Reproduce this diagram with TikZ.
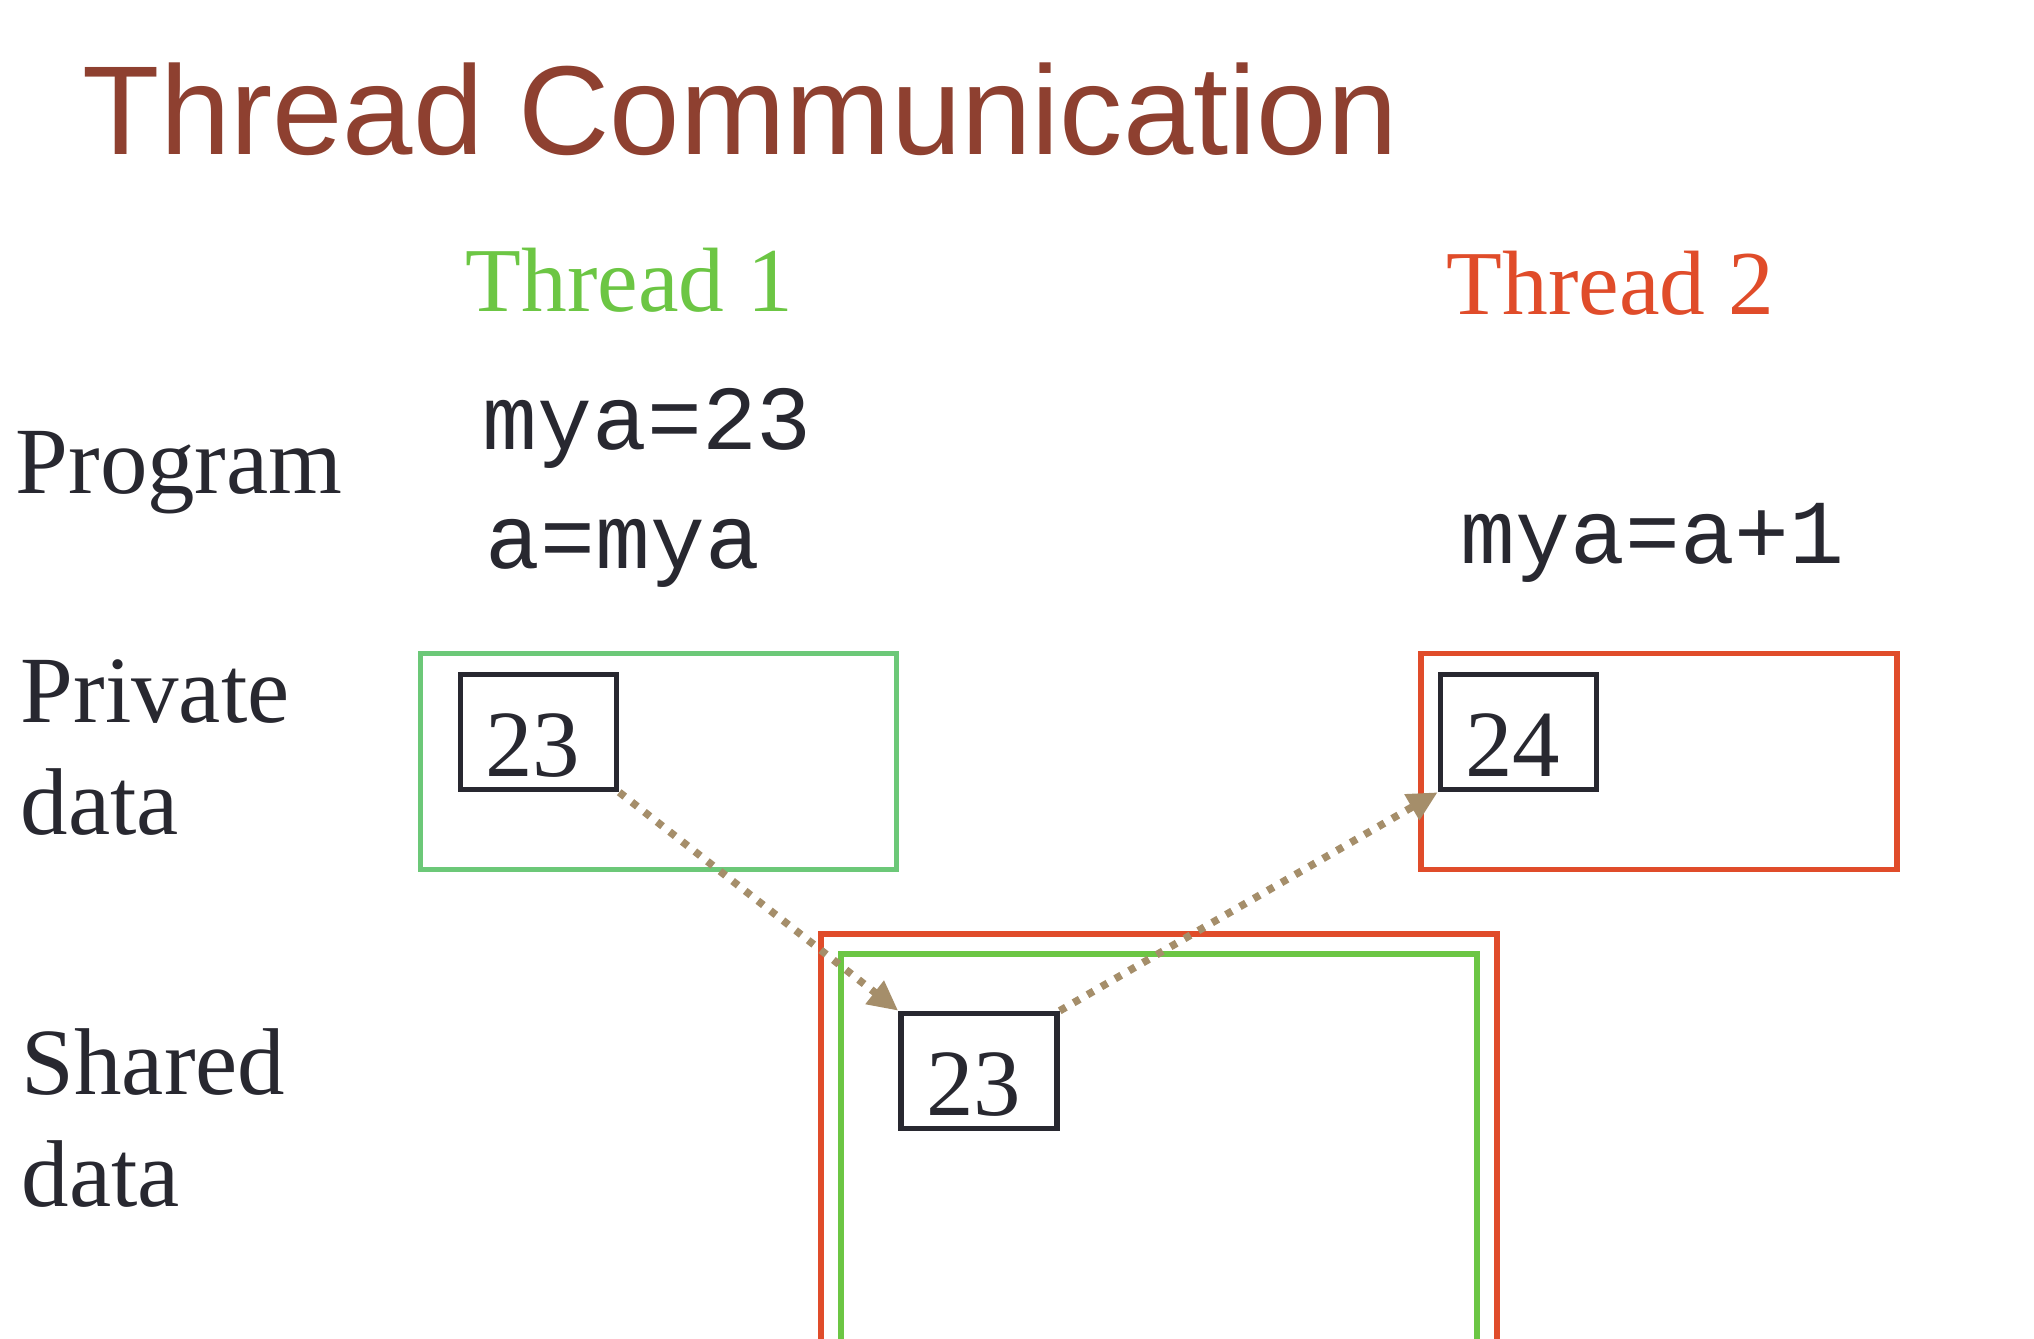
\documentclass[tikz,border=0pt]{standalone}
\usepackage{fontspec}
\setmainfont{Liberation Serif}
\setsansfont{Liberation Sans}
\setmonofont{Liberation Mono}
\usetikzlibrary{arrows.meta}

\definecolor{titlebrown}{RGB}{142,64,48}
\definecolor{threadgreen}{RGB}{108,198,68}
\definecolor{privgreen}{RGB}{108,200,120}
\definecolor{threadred}{RGB}{224,76,42}
\definecolor{ink}{RGB}{40,40,48}
\definecolor{arrowtan}{RGB}{165,142,106}

\newcommand{\bigtext}{\fontsize{27}{31.8}\selectfont}

\tikzset{
  lbl/.style={anchor=base west,inner sep=0,font=\bigtext,text=ink},
  code/.style={anchor=base west,inner sep=0,font=\ttfamily\fontsize{26}{31}\selectfont,text=ink},
  area/.style={draw=#1,line width=0.055cm,minimum width=4.76cm,minimum height=2.16cm,inner sep=0},
  val/.style={draw=ink,line width=0.055cm,minimum width=1.56cm,minimum height=1.15cm,
    inner xsep=0.25cm,inner ysep=0,text width=1.06cm,align=left,
    text height=0.88cm,text depth=0pt,font=\bigtext,text=ink},
  flow/.style={-{Triangle[length=0.3cm,width=0.28cm]},line width=0.075cm,
    dash pattern=on 0.07cm off 0.09cm,draw=arrowtan}
}

\begin{document}
\begin{tikzpicture}
\useasboundingbox (0,0) rectangle (20.34,-13.39);
\fill[white] (0,0) rectangle (20.34,-13.39);

% Title
\node[anchor=base west,inner sep=0,font=\sffamily\fontsize{36}{43}\selectfont,text=titlebrown]
  (title) at (0.82,-1.54) {Thread Communication};

% Thread headings
\node[lbl,font=\fontsize{26}{31}\selectfont,text=threadgreen] (t1) at (4.65,-3.11) {Thread 1};
\node[lbl,font=\fontsize{26}{31}\selectfont,text=threadred] (t2) at (14.46,-3.14) {Thread 2};

% Row labels (anchored at the baseline of the last line)
\node[lbl] (prog) at (0.15,-4.93) {Program};
\node[lbl,align=left] (priv) at (0.2,-8.34) {Private\\data};
\node[lbl,align=left] (shared) at (0.21,-12.06) {Shared\\data};

% Program text
\node[code] (c1) at (4.82,-4.49) {mya=23};
\node[code] (c2) at (4.85,-5.68) {a=mya};
\node[code] (c3) at (14.6,-5.63) {mya=a+1};

% Private data areas
\node[area=privgreen] (area1) at (6.585,-7.615) {};
\node[area=threadred] (area2) at (16.59,-7.615) {};

% Shared data area (runs off the bottom)
\node[area=threadred,minimum width=6.76cm,minimum height=4.26cm] (sharedout) at (11.59,-11.47) {};
\node[area=threadgreen,minimum width=6.36cm,minimum height=4.06cm] (sharedin) at (11.59,-11.57) {};

% Values
\node[val] (v1) at (5.385,-7.32) {23};
\node[val] (v2) at (15.185,-7.32) {24};
\node[val] (v3) at (9.79,-10.71) {23};

% Communication
\draw[flow] (v1.south east) -- (v3.north west);
\draw[flow] (v3.north east) -- (v2.south west);
\end{tikzpicture}
\end{document}
